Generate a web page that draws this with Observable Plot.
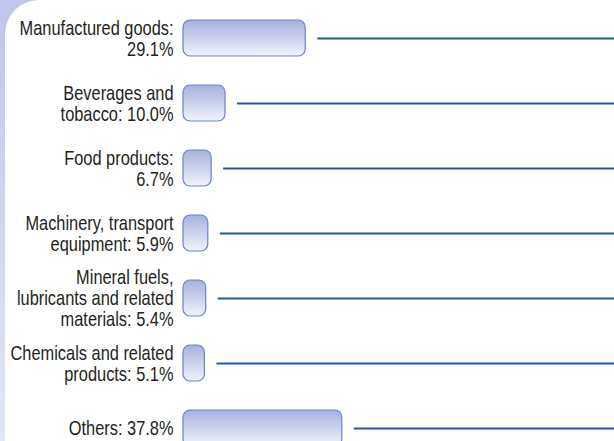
<!DOCTYPE html>
<html>
<head>
<meta charset="utf-8">
<script src="https://cdn.jsdelivr.net/npm/d3@7"></script>
<script src="https://cdn.jsdelivr.net/npm/@observablehq/plot@0.6"></script>
<style>
  html, body { margin: 0; padding: 0; width: 614px; height: 441px; overflow: hidden; }
  body { background: linear-gradient(#bfc6ea, #e3e6f6); position: relative; }
  #panel { position: absolute; left: 5px; top: 0; right: 0; bottom: 0; background: #fff; border-top-left-radius: 34px; }
  #chart { position: absolute; left: 0; top: 0; }
  #chart svg { background: transparent !important; overflow: hidden; }
</style>
</head>
<body>
<div id="panel"></div>
<div id="chart"></div>
<script>
const categories = [
  "Manufactured goods",
  "Beverages and tobacco",
  "Food products",
  "Machinery, transport equipment",
  "Mineral fuels, lubricants and related materials",
  "Chemicals and related products",
  "Others"
];
const shares = [29.1, 10.0, 6.7, 5.9, 5.4, 5.1, 37.8];
const labels = [
  "Manufactured goods:\n29.1%",
  "Beverages and\ntobacco: 10.0%",
  "Food products:\n6.7%",
  "Machinery, transport\nequipment: 5.9%",
  "Mineral fuels,\nlubricants and related\nmaterials: 5.4%",
  "Chemicals and related\nproducts: 5.1%",
  "Others: 37.8%"
];

const rows = categories.map((c, i) => ({category: c, share: shares[i], label: labels[i]}));
const xMax = 102.6;

const defs = () => {
  const d = d3.create("svg:defs");
  const g = d.append("linearGradient").attr("id", "barGrad").attr("x1", 0).attr("y1", 0).attr("x2", 0).attr("y2", 1);
  g.append("stop").attr("offset", "0%").attr("stop-color", "#a6b1dd");
  g.append("stop").attr("offset", "100%").attr("stop-color", "#f1f3fb");
  return d.node();
};

const chart = Plot.plot({
  width: 614,
  height: 441,
  marginLeft: 183,
  marginRight: 0,
  marginTop: 0,
  marginBottom: 0,
  style: {background: "transparent", fontFamily: "'Liberation Sans', Arial, sans-serif"},
  x: {domain: [0, xMax], range: [183, 614], axis: null},
  y: {domain: categories, range: [14, 452], paddingInner: 0.45, paddingOuter: 0.05, axis: null},
  marks: [
    defs,
    Plot.barX(rows, {
      y: "category", x1: 0, x2: "share",
      fill: "url(#barGrad)", stroke: "#6983c7", strokeWidth: 1.2, rx: 7
    }),
    Plot.ruleY(rows, {
      y: "category", x1: "share", x2: xMax, dx: 12,
      stroke: "#1c5ba7", strokeWidth: 2.2
    }),
    Plot.text(rows, {
      y: "category", x: 0, text: "label",
      textAnchor: "end", lineAnchor: "middle", dx: -10,
      fontSize: 20, lineHeight: 1.05, fill: "#231f20",
      className: "lbl"
    })
  ]
});
// condense label glyphs horizontally (Arial Narrow look)
d3.select(chart).selectAll("g.lbl text").each(function() {
  const t = this.getAttribute("transform") || "";
  this.setAttribute("transform", t + " scale(0.82,1)");
});
document.getElementById("chart").appendChild(chart);
</script>
</body>
</html>
